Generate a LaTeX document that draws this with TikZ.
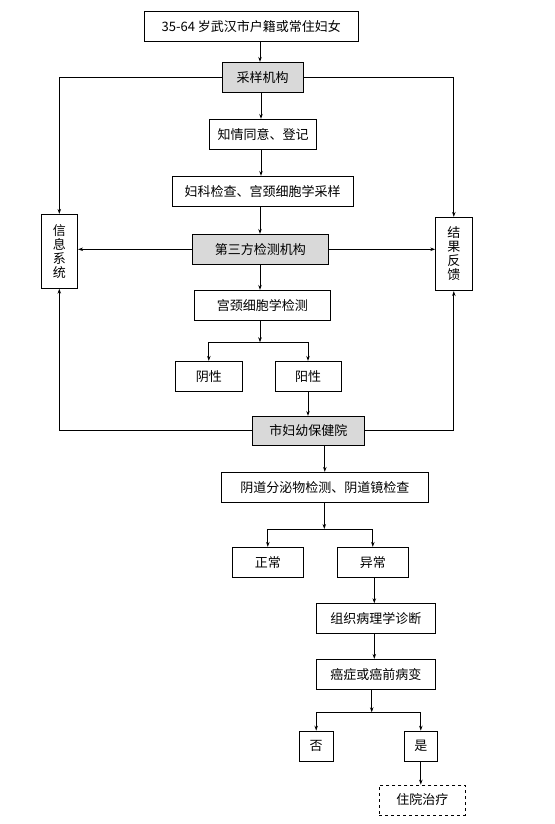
\documentclass[tikz,border=0pt]{standalone}
\usepackage{fontspec}
\usepackage{tikz}
\usetikzlibrary{arrows.meta}
\newfontfamily\cjk{Noto Sans CJK SC}
\definecolor{boxgray}{RGB}{217,217,217}
\tikzset{flowbox/.style={rectangle, draw, fill=white, line width=0.8pt, inner sep=0pt, font=\cjk\fontsize{13}{16}\selectfont},
  grey/.style={flowbox, fill=boxgray},
  sidebox/.style={flowbox, align=center, font=\cjk\fontsize{13}{14}\selectfont},
  arr/.style={-{Stealth[length=5pt,width=3.5pt]}, line width=0.8pt},
  ln/.style={line width=0.8pt}}

\begin{document}
\begin{tikzpicture}[x=1pt,y=-1pt]
\useasboundingbox (0,0) rectangle (554,824);

\node[flowbox, minimum width=214pt, minimum height=30pt] (top) at (251.3,26.3) {35-64 岁武汉市户籍或常住妇女\hspace{14pt}};
\node[grey, minimum width=81pt, minimum height=30pt] (caiyang) at (262.7,77.3) {采样机构};
\node[flowbox, minimum width=106.6pt, minimum height=30pt] (zhiqing) at (263,134.3) {知情同意、登记};
\node[flowbox, minimum width=181pt, minimum height=30pt] (fuke) at (262.5,191.3) {妇科检查、宫颈细胞学采样};
\node[grey, minimum width=136.7pt, minimum height=30pt] (disan) at (260.3,249.3) {第三方检测机构};
\node[sidebox, minimum width=36.7pt, minimum height=74pt] (xinxi) at (59.3,251.3) {信\\息\\系\\统};
\node[sidebox, minimum width=36.3pt, minimum height=73.4pt] (jieguo) at (453.8,254) {结\\果\\反\\馈};
\node[flowbox, minimum width=136.7pt, minimum height=30pt] (jiance) at (262.3,305.3) {宫颈细胞学检测};
\node[flowbox, minimum width=66.3pt, minimum height=30pt] (yin) at (208.8,376.3) {阴性};
\node[flowbox, minimum width=66pt, minimum height=30pt] (yang) at (308,376.3) {阳性};
\node[grey, minimum width=112pt, minimum height=29pt] (fuyou) at (308.3,430.8) {市妇幼保健院};
\node[flowbox, minimum width=207pt, minimum height=30pt] (yindao) at (324.8,487.3) {阴道分泌物检测、阴道镜检查};
\node[flowbox, minimum width=71pt, minimum height=30pt] (zheng) at (267.8,562.3) {正常};
\node[flowbox, minimum width=71pt, minimum height=30pt] (yi) at (372.8,562.3) {异常};
\node[flowbox, minimum width=119pt, minimum height=29.6pt] (zuzhi) at (375.8,618.5) {组织病理学诊断};
\node[flowbox, minimum width=119pt, minimum height=30pt] (ai) at (375.8,674.3) {癌症或癌前病变};
\node[flowbox, minimum width=34.3pt, minimum height=30.3pt] (fou) at (316.2,746.2) {否};
\node[flowbox, minimum width=33pt, minimum height=30.3pt] (shi) at (420.8,746.2) {是};
\node[flowbox, dashed, minimum width=86pt, minimum height=30pt] (zhuyuan) at (422.3,800) {住院治疗};

% main line
\draw[arr] (top.south -| 260,0) -- (caiyang.north -| 260,0);
\draw[arr] (caiyang.south -| 261,0) -- (zhiqing.north -| 261,0);
\draw[arr] (zhiqing.south -| 261,0) -- (fuke.north -| 261,0);
\draw[arr] (fuke.south -| 260,0) -- (disan.north -| 260,0);
\draw[arr] (disan.south -| 260,0) -- (jiance.north -| 260,0);

% side boxes
\draw[arr] (caiyang.west) -| (xinxi.north);
\draw[arr] (caiyang.east) -| (jieguo.north);
\draw[arr] (disan.west) -- (disan.west -| xinxi.east);
\draw[arr] (disan.east) -- (disan.east -| jieguo.west);
\draw[arr] (fuyou.west) -| (xinxi.south);
\draw[arr] (fuyou.east) -| (jieguo.south);

% cytology result
\coordinate (j1) at (260,342.3);
\draw[arr] (jiance.south -| j1) -- (j1);
\draw[ln] (yin.north |- j1) -- (yang.north |- j1);
\draw[arr] (yin.north |- j1) -- (yin.north);
\draw[arr] (yang.north |- j1) -- (yang.north);
\draw[arr] (yang.south) -- (yang.south |- fuyou.north);
\draw[arr] (fuyou.south -| yindao.north) -- (yindao.north);

% colposcopy result
\coordinate (j2) at (324.3,529);
\draw[arr] (yindao.south -| j2) -- (j2);
\draw[ln] (zheng.north |- j2) -- (yi.north |- j2);
\draw[arr] (zheng.north |- j2) -- (zheng.north);
\draw[arr] (yi.north |- j2) -- (yi.north);
\draw[arr] (yi.south -| 374.3,0) -- (zuzhi.north -| 374.3,0);
\draw[arr] (zuzhi.south -| 374.3,0) -- (ai.north -| 374.3,0);

\coordinate (j3) at (371.7,712.3);
\draw[arr] (ai.south -| j3) -- (j3);
\draw[ln] (fou.north |- j3) -- (shi.north |- j3);
\draw[arr] (fou.north |- j3) -- (fou.north);
\draw[arr] (shi.north |- j3) -- (shi.north);
\draw[arr] (shi.south) -- (shi.south |- zhuyuan.north);
\end{tikzpicture}
\end{document}
